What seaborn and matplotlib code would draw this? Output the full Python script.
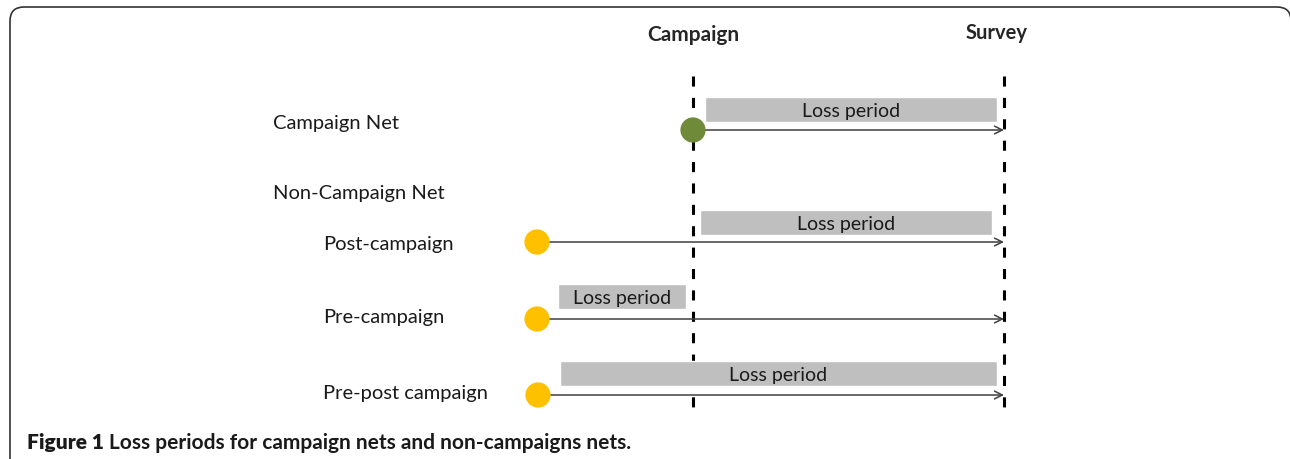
import matplotlib.pyplot as plt
import seaborn as sns
import pandas as pd
from matplotlib.patches import FancyBboxPatch

sns.set_theme(style="white")
plt.rcParams["font.family"] = ["Lato", "DejaVu Sans"]

# timeline positions (pixel units)
campaign_x = 693
survey_x = 1004
vline_top = 77
vline_bottom = 418

rows = ["Campaign Net", "Post-campaign", "Pre-campaign", "Pre-post campaign"]
row_label_x = [273, 323, 323, 323]
row_label_y = [124, 245, 318, 394]
row_y = [131, 243, 320, 396]
net_start = [693, 537, 537, 538]
net_color = ["#6f8b3a", "#ffc000", "#ffc000", "#ffc000"]
loss_start = [705, 700, 558, 560]
loss_end = [997, 992, 686, 997]
loss_y = [110, 223, 297, 374]

heading = "Non-Campaign Net"
heading_y = 194
caption_lead = "Figure 1"
caption = "Loss periods for campaign nets and non-campaigns nets."

df = pd.DataFrame({"row": rows, "y": row_y, "start": net_start, "color": net_color,
                   "loss_start": loss_start, "loss_end": loss_end, "loss_y": loss_y})

fig = plt.figure(figsize=(12.9, 4.6), dpi=100)
ax = fig.add_axes([0, 0, 1, 1])
ax.set_xlim(0, 1290)
ax.set_ylim(460, 0)
ax.axis("off")

# outer frame (right and bottom edges run off the picture)
frame = FancyBboxPatch((10, 8), 1281, 480, boxstyle="round,pad=0,rounding_size=14",
                       fill=False, edgecolor="#333333", linewidth=1.2, clip_on=False)
ax.add_patch(frame)

# campaign / survey dashed lines
ax.vlines([campaign_x, survey_x], vline_top, vline_bottom, colors="black",
          linewidth=2.2, linestyles=[(0, (3.3, 3.7))])
ax.text(campaign_x, 35, "Campaign", ha="center", va="center", fontsize=15, fontweight="bold")
ax.text(997, 33, "Survey", ha="center", va="center", fontsize=14.5, fontweight="bold")

# loss period bars
ax.barh(df["loss_y"], df["loss_end"] - df["loss_start"], left=df["loss_start"],
        height=25, color="#bfbfbf", zorder=2)
for _, r in df.iterrows():
    ax.text((r["loss_start"] + r["loss_end"]) / 2, r["loss_y"] + 1.5, "Loss period",
            ha="center", va="center", fontsize=14, color="#1a1a1a", zorder=3)
    ax.annotate("", xy=(survey_x, r["y"]), xytext=(r["start"], r["y"]),
                arrowprops=dict(arrowstyle="->", color="#404040", lw=1.1,
                                shrinkA=0, shrinkB=0, mutation_scale=14), zorder=3)

sns.scatterplot(data=df, x="start", y="y", hue="row", palette=list(df["color"]),
                s=330, edgecolor="none", legend=False, ax=ax, zorder=4)

for lab, x, y in zip(rows, row_label_x, row_label_y):
    ax.text(x, y, lab, ha="left", va="center", fontsize=14.5, color="#1a1a1a")
ax.text(273, heading_y, heading, ha="left", va="center", fontsize=14.5, color="#1a1a1a")

t1 = ax.text(27, 443, caption_lead, ha="left", va="center", fontsize=15,
             fontweight="heavy", color="#1a1a1a")
ax.annotate(caption, xy=(1, 0.5), xycoords=t1, xytext=(4, 0), textcoords="offset points",
            ha="left", va="center", fontsize=15, fontweight="bold", color="#1a1a1a")

fig.savefig("out.png", dpi=100)
